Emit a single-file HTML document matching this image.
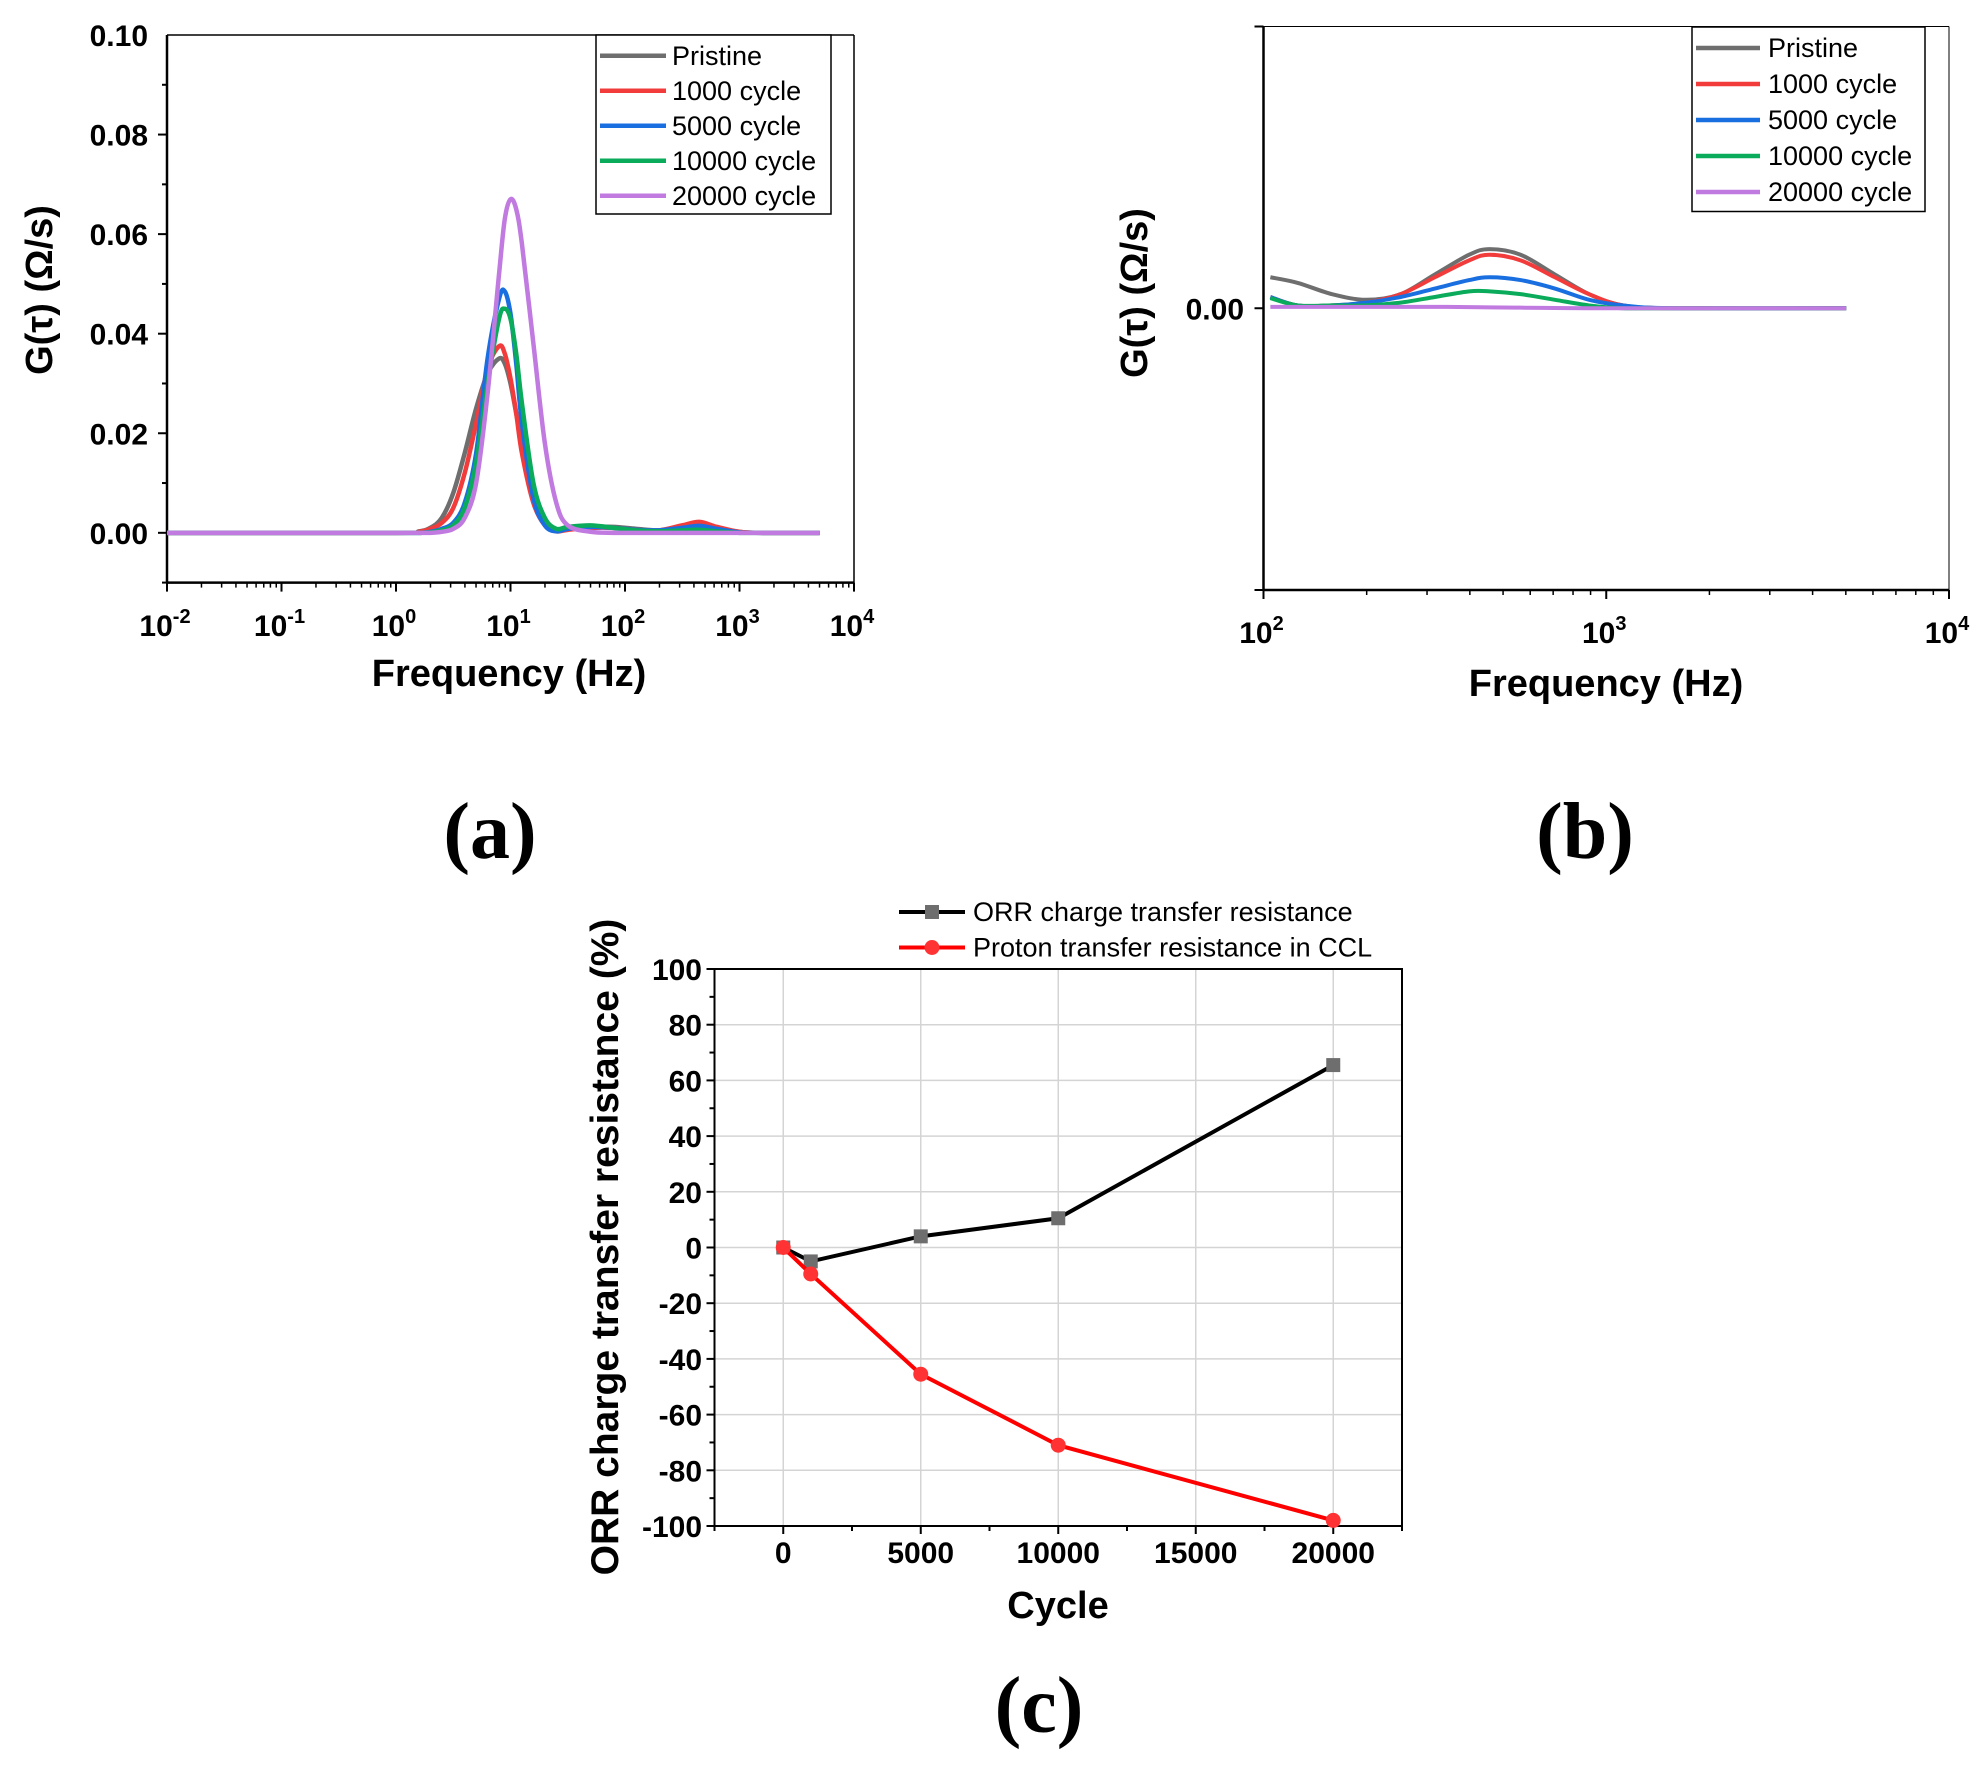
<!DOCTYPE html>
<html><head><meta charset="utf-8"><style>
html,body{margin:0;padding:0;background:#fff;}
svg{display:block;font-family:"Liberation Sans",Arial,sans-serif;}
.tl{font-size:30px;font-weight:bold;fill:#000;}
.ttl{font-size:38px;font-weight:bold;fill:#000;}
.lg{font-size:27px;fill:#000;}
.pl{font-family:"Liberation Serif",serif;font-size:80px;font-weight:bold;fill:#000;}
</style></head><body>
<svg id="s" width="1987" height="1765" viewBox="0 0 1987 1765" xmlns="http://www.w3.org/2000/svg"></svg>
<script>
// ---- Panel (a) data ----
const gridA = [-2,0,0.2,0.3,0.4,0.5,0.6,0.7,0.8,0.9,0.95,1.0,1.05,1.1,1.2,1.3,1.4,1.5,1.7,1.9,2.1,2.3,2.5,2.65,2.8,3.0,3.2,3.7];
const aPristine = [0,0,0.0003,0.001,0.003,0.008,0.016,0.025,0.032,0.035,0.034,0.030,0.024,0.018,0.008,0.002,0.0005,0.0008,0.0012,0.0012,0.0008,0.0005,0.0012,0.0018,0.0010,0.0002,0,0];
const a1000 = [0,0,0.0002,0.0008,0.002,0.005,0.012,0.022,0.033,0.0375,0.036,0.031,0.024,0.016,0.006,0.0015,0.0003,0.0006,0.0010,0.0010,0.0006,0.0005,0.0015,0.0022,0.0012,0.0002,0,0];
const a5000 = [0,0,0,0.0002,0.0008,0.002,0.006,0.016,0.035,0.047,0.0485,0.044,0.034,0.022,0.007,0.0015,0.0003,0.0008,0.0012,0.0010,0.0006,0.0005,0.0010,0.0014,0.0008,0.0001,0,0];
const a10000 = [0,0,0,0.0001,0.0005,0.0015,0.005,0.014,0.030,0.043,0.045,0.043,0.036,0.026,0.010,0.003,0.0008,0.0012,0.0015,0.0010,0.0005,0.0003,0.0005,0.0006,0.0003,0,0,0];
const a20000 = [0,0,0,0,0.0002,0.0008,0.003,0.010,0.028,0.052,0.063,0.067,0.065,0.058,0.038,0.018,0.006,0.0015,0.0002,0,0,0,0,0,0,0,0,0];
const aYTicks = ["0.00","0.02","0.04","0.06","0.08","0.10"];
// ---- Panel (b) data ----
const gridB = [2.02,2.1,2.2,2.3,2.4,2.5,2.6,2.66,2.75,2.85,2.95,3.05,3.2,3.7];
const bPristine = [0.0011,0.0009,0.0005,0.0003,0.0005,0.0012,0.0019,0.0021,0.0019,0.0012,0.0005,0.0001,0,0];
const b1000 = [0.0004,0.0001,0.0001,0.0002,0.0005,0.0011,0.0017,0.0019,0.0017,0.0011,0.0005,0.0001,0,0];
const b5000 = [0.0004,0.0001,0.0001,0.0002,0.0004,0.0007,0.0010,0.0011,0.0010,0.0007,0.0003,0.0001,0,0];
const b10000 = [0.00036,0.0001,0.0001,0.0001,0.0002,0.0004,0.0006,0.0006,0.0005,0.0003,0.0001,0,0,0];
const b20000 = [0.00005,0.00005,0.00005,0.00005,0.00005,0.00005,0.00004,0.00003,0.00002,0.00001,0,0,0,0];
// ---- Panel (c) data ----
const cycles = [0,1000,5000,10000,20000];
const orrVals = [0,-5,4,10.5,65.5];
const protonVals = [0,-9.5,-45.5,-71,-98];
const cYTicks = [100,80,60,40,20,0,-20,-40,-60,-80,-100];
const cXTicks = [0,5000,10000,15000,20000];

const seriesNames = ["Pristine","1000 cycle","5000 cycle","10000 cycle","20000 cycle"];
const seriesColors = ["#6e6e6e","#f23c3c","#1a6fe0","#0aab5a","#c07ae0"];

const NS="http://www.w3.org/2000/svg";
const svg=document.getElementById('s');
function el(tag,attrs,parent,txt){const e=document.createElementNS(NS,tag);for(const k in attrs)e.setAttribute(k,attrs[k]);if(txt!==undefined)e.textContent=txt;(parent||svg).appendChild(e);return e;}
function smooth(pts){let d="M"+pts[0][0]+","+pts[0][1];for(let i=0;i<pts.length-1;i++){const p0=pts[Math.max(0,i-1)],p1=pts[i],p2=pts[i+1],p3=pts[Math.min(pts.length-1,i+2)];const c1=[p1[0]+(p2[0]-p0[0])/6,p1[1]+(p2[1]-p0[1])/6],c2=[p2[0]-(p3[0]-p1[0])/6,p2[1]-(p3[1]-p1[1])/6];d+=" C"+c1[0]+","+c1[1]+" "+c2[0]+","+c2[1]+" "+p2[0]+","+p2[1];}return d;}

// ===== Panel A =====
(function(){
const L=167,R=854,T=35,B=582.6;
const x=v=>L+(v+2)*(R-L)/6, y=v=>T+(0.10-v)*(B-T)/0.11;
const g=el('g',{});

el('line',{x1:L,y1:T,x2:R,y2:T,stroke:'#000','stroke-width':1.5},g);
el('line',{x1:R,y1:T,x2:R,y2:B,stroke:'#000','stroke-width':1.5},g);
el('line',{x1:L,y1:T,x2:L,y2:B,stroke:'#000','stroke-width':2.5},g);
el('line',{x1:L,y1:B,x2:R,y2:B,stroke:'#000','stroke-width':2.5},g);
for(let i=0;i<=10;i++){const v=-0.01+i*0.01;const yy=y(v);el('line',{x1:L,y1:yy,x2:L-(i%2?9:5),y2:yy,stroke:'#000','stroke-width':2},g);}
aYTicks.forEach(t=>{const tx=el('text',{x:148,y:y(parseFloat(t))+11,'text-anchor':'end',class:'tl'},g,t);});
for(let d=-2;d<=4;d++){el('line',{x1:x(d),y1:B,x2:x(d),y2:B+9,stroke:'#000','stroke-width':2},g);
 const t=el('text',{x:x(d)-2,y:636,'text-anchor':'middle',class:'tl'},g);
 el('tspan',{},t,'10');el('tspan',{dy:-13,'font-size':'20px'},t,String(d));
 if(d<4)for(let k=2;k<10;k++){const xx=x(d+Math.log10(k));el('line',{x1:xx,y1:B,x2:xx,y2:B+5,stroke:'#000','stroke-width':1.5},g);}}
const data=[aPristine,a1000,a5000,a10000,a20000];
data.forEach((arr,si)=>{const p=el('path',{d:smooth(gridA.map((v,i)=>[x(v),y(arr[i])])),fill:'none',stroke:seriesColors[si],'stroke-width':4.5},g);
 });
const lg=el('g',{},g);
el('rect',{x:596,y:35,width:235,height:179,fill:'#fff',stroke:'#000','stroke-width':1.5},lg);
seriesNames.forEach((n,i)=>{const yy=55.8+i*35;el('line',{x1:600,y1:yy,x2:666,y2:yy,stroke:seriesColors[i],'stroke-width':4.5},lg);
 const t=el('text',{x:672,y:yy+9,class:'lg'},lg,n);});
const yt=el('text',{x:0,y:0,class:'ttl',transform:'translate(52,290) rotate(-90)','text-anchor':'middle'},g,'G(τ) (Ω/s)');
const xt=el('text',{x:509,y:686,class:'ttl','text-anchor':'middle'},g,'Frequency (Hz)');
const pl=el('text',{x:490,y:858,class:'pl','text-anchor':'middle'},g,'(a)');
})();

// ===== Panel B =====
(function(){
const L=1263.5,R=1949,T=26.5,B=590;
const x=v=>L+(v-2)*(R-L)/2, y=v=>T+(0.01-v)*(B-T)/0.02;
const g=el('g',{});

el('line',{x1:L,y1:T,x2:R,y2:T,stroke:'#000','stroke-width':1},g);
el('line',{x1:R,y1:T,x2:R,y2:B,stroke:'#000','stroke-width':1},g);
el('line',{x1:L,y1:T,x2:L,y2:B,stroke:'#000','stroke-width':2.5},g);
el('line',{x1:L,y1:B,x2:R,y2:B,stroke:'#000','stroke-width':2.5},g);
[T,y(0),B].forEach(yy=>el('line',{x1:L,y1:yy,x2:L-9,y2:yy,stroke:'#000','stroke-width':2},g));
const t0=el('text',{x:1244,y:y(0)+11,'text-anchor':'end',class:'tl'},g,'0.00');
for(let d=2;d<=4;d++){el('line',{x1:x(d),y1:B,x2:x(d),y2:B+9,stroke:'#000','stroke-width':2},g);
 const t=el('text',{x:x(d)-2,y:643,'text-anchor':'middle',class:'tl'},g);
 el('tspan',{},t,'10');el('tspan',{dy:-13,'font-size':'20px'},t,String(d));
 if(d<4)for(let k=2;k<10;k++){const xx=x(d+Math.log10(k));el('line',{x1:xx,y1:B,x2:xx,y2:B+5,stroke:'#000','stroke-width':1.5},g);}}
const data=[bPristine,b1000,b5000,b10000,b20000];
data.forEach((arr,si)=>{const p=el('path',{d:smooth(gridB.map((v,i)=>[x(v),y(arr[i])])),fill:'none',stroke:seriesColors[si],'stroke-width':4},g);
 });
const lg=el('g',{},g);
el('rect',{x:1692,y:27,width:233,height:184.5,fill:'#fff',stroke:'#000','stroke-width':1.5},lg);
seriesNames.forEach((n,i)=>{const yy=48+i*36;el('line',{x1:1696,y1:yy,x2:1760,y2:yy,stroke:seriesColors[i],'stroke-width':4.5},lg);
 const t=el('text',{x:1768,y:yy+9,class:'lg'},lg,n);});
const yt=el('text',{x:0,y:0,class:'ttl',transform:'translate(1147,293) rotate(-90)','text-anchor':'middle'},g,'G(τ) (Ω/s)');
const xt=el('text',{x:1606,y:696,class:'ttl','text-anchor':'middle'},g,'Frequency (Hz)');
const pl=el('text',{x:1585,y:858,class:'pl','text-anchor':'middle'},g,'(b)');
})();

// ===== Panel C =====
(function(){
const L=714.5,R=1402,T=969,B=1526;
const x=v=>L+(v+2500)*(R-L)/25000, y=v=>T+(100-v)*(B-T)/200;
const g=el('g',{});

cYTicks.forEach(v=>el('line',{x1:L,y1:y(v),x2:R,y2:y(v),stroke:'#d4d4d4','stroke-width':1.5},g));
cXTicks.forEach(v=>el('line',{x1:x(v),y1:T,x2:x(v),y2:B,stroke:'#d4d4d4','stroke-width':1.5},g));
el('rect',{x:L,y:T,width:R-L,height:B-T,fill:'none',stroke:'#000','stroke-width':2},g);
for(let v=-100;v<=100;v+=10){el('line',{x1:L,y1:y(v),x2:L-(v%20===0?8:5),y2:y(v),stroke:'#000','stroke-width':2},g);}
cYTicks.forEach(v=>{const t=el('text',{x:702,y:y(v)+11,'text-anchor':'end',class:'tl'},g,String(v));});
for(let v=-2500;v<=22500;v+=2500){el('line',{x1:x(v),y1:B,x2:x(v),y2:B+(v%5000===0?8:5),stroke:'#000','stroke-width':2},g);}
cXTicks.forEach(v=>{const t=el('text',{x:x(v),y:1563,'text-anchor':'middle',class:'tl'},g,String(v));});
const s1=el('polyline',{points:cycles.map((c,i)=>x(c)+','+y(orrVals[i])).join(' '),fill:'none',stroke:'#000','stroke-width':4},g);

cycles.forEach((c,i)=>{const m=el('rect',{x:x(c)-7,y:y(orrVals[i])-7,width:14,height:14,fill:'#6e6e6e'},g);});
const s2=el('polyline',{points:cycles.map((c,i)=>x(c)+','+y(protonVals[i])).join(' '),fill:'none',stroke:'#f00','stroke-width':4},g);

cycles.forEach((c,i)=>{const m=el('circle',{cx:x(c),cy:y(protonVals[i]),r:7.5,fill:'#f33'},g);});
const lg=el('g',{},g);
el('line',{x1:899,y1:912,x2:965,y2:912,stroke:'#000','stroke-width':4},lg);el('rect',{x:925,y:905,width:14,height:14,fill:'#6e6e6e'},lg);
const l1=el('text',{x:973,y:921,class:'lg'},lg,'ORR charge transfer resistance');
el('line',{x1:899,y1:947.5,x2:965,y2:947.5,stroke:'#f00','stroke-width':4},lg);el('circle',{cx:932,cy:947.5,r:7.5,fill:'#f33'},lg);
const l2=el('text',{x:973,y:956.5,class:'lg'},lg,'Proton transfer resistance in CCL');
const yt=el('text',{x:0,y:0,class:'ttl',style:'font-size:39px',transform:'translate(618,1247) rotate(-90)','text-anchor':'middle'},g,'ORR charge transfer resistance (%)');
const xt=el('text',{x:1058,y:1618,class:'ttl','text-anchor':'middle'},g,'Cycle');
const pl=el('text',{x:1039,y:1732,class:'pl','text-anchor':'middle'},g,'(c)');
})();
</script>
</body></html>
